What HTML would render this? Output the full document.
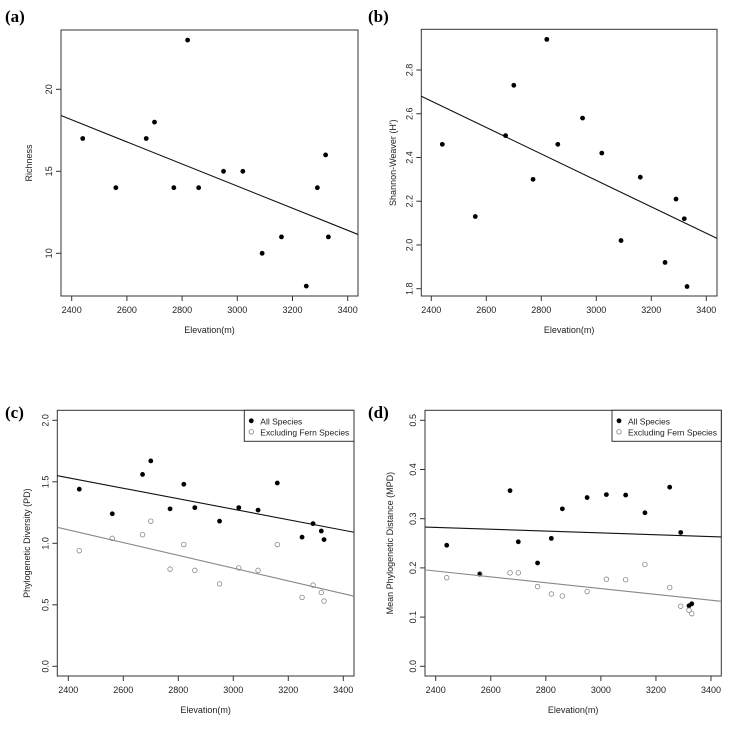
<!DOCTYPE html>
<html><head><meta charset="utf-8"><style>
body{margin:0;background:#fff}
svg text{font-family:"Liberation Sans",sans-serif;fill:#222}
.pl{font-family:"Liberation Serif",serif;font-weight:bold;font-size:17px;fill:#000}
</style></head><body>
<svg id="fig" width="734" height="724" viewBox="0 0 734 724" xmlns="http://www.w3.org/2000/svg"></svg>
<script>
const elevation=[2440,2560,2670,2700,2770,2820,2860,2950,3020,3090,3160,3250,3290,3320,3330];
const xTicks=[2400,2600,2800,3000,3200,3400];
const richness=[17,14,17,18,14,23,14,15,15,10,11,8,14,16,11];
const richTicks=[10,15,20];
const richFit=[18.4,11.15];
const shannon=[2.46,2.13,2.50,2.73,2.30,2.94,2.46,2.58,2.42,2.02,2.31,1.92,2.21,2.12,1.81];
const shanTicks=[1.8,2.0,2.2,2.4,2.6,2.8];
const shanFit=[2.68,2.03];
const pdAll=[1.44,1.24,1.56,1.67,1.28,1.48,1.29,1.18,1.29,1.27,1.49,1.05,1.16,1.10,1.03];
const pdExcl=[0.94,1.04,1.07,1.18,0.79,0.99,0.78,0.67,0.80,0.78,0.99,0.56,0.66,0.60,0.53];
const pdTicks=[0.0,0.5,1.0,1.5,2.0];
const pdFitAll=[1.55,1.09];
const pdFitExcl=[1.13,0.57];
const mpdAll=[0.246,0.187,0.357,0.253,0.210,0.260,0.320,0.343,0.349,0.348,0.312,0.364,0.272,0.123,0.127];
const mpdExcl=[0.180,0.188,0.190,0.190,0.162,0.147,0.143,0.152,0.177,0.176,0.207,0.160,0.122,0.114,0.107];
const mpdTicks=[0.0,0.1,0.2,0.3,0.4,0.5];
const mpdFitAll=[0.283,0.263];
const mpdFitExcl=[0.196,0.132];

const NS="http://www.w3.org/2000/svg";
const svg=document.getElementById('fig');
function mk(tag,attrs,parent,txt){const e=document.createElementNS(NS,tag);for(const k in attrs)e.setAttribute(k,attrs[k]);if(txt!==undefined)e.textContent=txt;(parent||svg).appendChild(e);return e;}

function panel(o){
  const g=mk('g',{});
  
  
  const sx=v=>o.x0+(v-2400)*(o.x1-o.x0)/1000;
  const sy=v=>o.yA+(v-o.vA)*(o.yB-o.yA)/(o.vB-o.vA);
  const lab=mk('text',{x:o.lx,y:o.ly,class:'pl'},g,'('+o.id+')');
  
  
  const box=mk('rect',{x:o.L,y:o.T,width:o.R-o.L,height:o.B-o.T,fill:'none',stroke:'#333','stroke-width':1},g);
  
  
  xTicks.forEach(t=>{const X=sx(t);
    mk('line',{x1:X,x2:X,y1:o.B,y2:o.B+5,stroke:'#333'},g);
    const tl=mk('text',{x:X,y:o.B+17,'font-size':9,'text-anchor':'middle'},g,t);
    
    
  });
  o.ticks.forEach(t=>{const Y=sy(t);
    mk('line',{x1:o.L,x2:o.L-5,y1:Y,y2:Y,stroke:'#333'},g);
    const tl=mk('text',{x:o.L-9,y:Y,'font-size':9,'text-anchor':'middle',transform:`rotate(-90 ${o.L-9} ${Y})`},g,o.fmt(t));
    
    
  });
  const xt=mk('text',{x:(o.L+o.R)/2,y:o.B+37,'font-size':9,'text-anchor':'middle'},g,'Elevation(m)');
  
  
  const ym=(o.T+o.B)/2;
  const yt=mk('text',{x:o.ytx,y:ym,'font-size':9,'text-anchor':'middle',transform:`rotate(-90 ${o.ytx} ${ym})`},g,o.ytitle);
  
  
  o.series.forEach(s=>{
    const ln=mk('line',{x1:o.L,y1:sy(s.fit[0]),x2:o.R,y2:sy(s.fit[1]),stroke:s.open?'#888':'#111','stroke-width':1.1},g);
    
    
    s.vals.forEach((v,i)=>{
      const c=mk('circle',{cx:sx(elevation[i]),cy:sy(v),r:s.open?2.3:2.4,fill:s.open?'none':'#000',stroke:s.open?'#888':'none','stroke-width':0.8},g);
      
      
    });
  });
  if(o.legend){
    const lg=mk('g',{},g);
    
    
    const lx=o.legend;
    mk('rect',{x:lx,y:o.T,width:o.R-lx,height:31,fill:'#fff',stroke:'#333'},lg);
    mk('circle',{cx:lx+7,cy:o.T+10.5,r:2.4,fill:'#000'},lg);
    mk('circle',{cx:lx+7,cy:o.T+21.5,r:2.3,fill:'none',stroke:'#888','stroke-width':0.8},lg);
    const a=mk('text',{x:lx+16,y:o.T+14,'font-size':8.5,textLength:42,lengthAdjust:'spacingAndGlyphs'},lg,'All Species');
    
    
    const b=mk('text',{x:lx+16,y:o.T+25,'font-size':8.5,textLength:89,lengthAdjust:'spacingAndGlyphs'},lg,'Excluding Fern Species');
    
    
  }
}
const f0=t=>String(t), f1=t=>t.toFixed(1);
panel({id:'a',lx:5,ly:22,L:61,R:358,T:30,B:296,x0:71.7,x1:347.7,vA:20,yA:89.3,vB:10,yB:253.3,ticks:richTicks,fmt:f0,ytx:32,ytitle:'Richness',
  series:[{name:'richness',vals:richness,fit:richFit}]});
panel({id:'b',lx:368,ly:22,L:421.3,R:717,T:29.3,B:296,x0:431.3,x1:706.3,vA:2.8,yA:70,vB:1.8,yB:288.7,ticks:shanTicks,fmt:f1,ytx:396,ytitle:"Shannon-Weaver (H')",
  series:[{name:'shannon',vals:shannon,fit:shanFit}]});
panel({id:'c',lx:5,ly:418,L:57.3,R:354,T:410.3,B:676,x0:68.3,x1:343.3,vA:2.0,yA:420.3,vB:0,yB:666.3,ticks:pdTicks,fmt:f1,ytx:30,ytitle:'Phylogenetic Diversity (PD)',legend:244.3,
  series:[{name:'pd-all',vals:pdAll,fit:pdFitAll},{name:'pd-excl',vals:pdExcl,fit:pdFitExcl,open:true}]});
panel({id:'d',lx:368,ly:418,L:425,R:721.3,T:410.3,B:676,x0:435.7,x1:711,vA:0.5,yA:420.3,vB:0,yB:666.3,ticks:mpdTicks,fmt:f1,ytx:393,ytitle:'Mean Phylogenetic Distance (MPD)',legend:612,
  series:[{name:'mpd-all',vals:mpdAll,fit:mpdFitAll},{name:'mpd-excl',vals:mpdExcl,fit:mpdFitExcl,open:true}]});
</script>
</body></html>
